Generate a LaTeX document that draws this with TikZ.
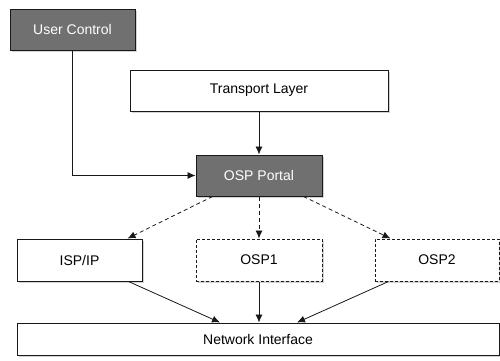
\documentclass[tikz,border=0pt]{standalone}
\usepackage{fontspec}
\setmainfont{Liberation Sans}
\usetikzlibrary{arrows.meta, positioning, shadows}

\definecolor{boxgray}{RGB}{112,112,112}

\begin{document}
\begin{tikzpicture}[x=1pt, y=-1pt,
    layer/.style={draw=black!90, line width=1pt, fill=white, rectangle, minimum width=125pt, minimum height=41pt, inner sep=0pt, font=\fontsize{14}{16}\selectfont,
        drop shadow={shadow xshift=2pt, shadow yshift=-2pt, opacity=0.35}},
    darklayer/.style={layer, fill=boxgray, text=white},
    optlayer/.style={layer, dashed, dash pattern=on 3pt off 2pt},
    link/.style={-{Latex[length=8pt, width=7pt]}, line width=0.8pt, black!90},
    optlink/.style={link, dash pattern=on 4pt off 3pt}
]
\useasboundingbox (0,0) rectangle (500,360);

% Top layers
\node[darklayer] (ucontrol) at (72.5,29.5) {User Control};
\node[layer, minimum width=258pt] (transport) at (259,90.5) {Transport Layer};
\node[darklayer, minimum width=126pt] (portal) at (259,175.5) {OSP Portal};

% Providers
\node[layer, minimum height=42pt] (isp) at (79.5,260) {ISP/IP};
\node[optlayer, minimum width=126pt, minimum height=42pt] (osp1) at (259,260) {OSP1};
\node[optlayer, minimum width=124pt, minimum height=42pt] (osp2) at (437,260) {OSP2};

% Bottom
\node[layer, minimum width=482pt, minimum height=32pt] (netif) at (258,339) {Network Interface};

% Connections
\draw[link] (ucontrol.south) |- (portal.west);
\draw[link] (transport.south) -- (portal.north);
\draw[optlink] ([xshift=17pt]portal.south west) -- ([xshift=-15pt]isp.north east);
\draw[optlink] (portal.south) -- (osp1.north);
\draw[optlink] ([xshift=-19pt]portal.south east) -- ([xshift=16pt]osp2.north west);
\draw[link] ([xshift=-14pt]isp.south east) -- ([xshift=-38pt]netif.north);
\draw[link] (osp1.south) -- (netif.north -| osp1.south);
\draw[link] ([xshift=14pt]osp2.south west) -- ([xshift=39pt]netif.north);

\end{tikzpicture}
\end{document}
